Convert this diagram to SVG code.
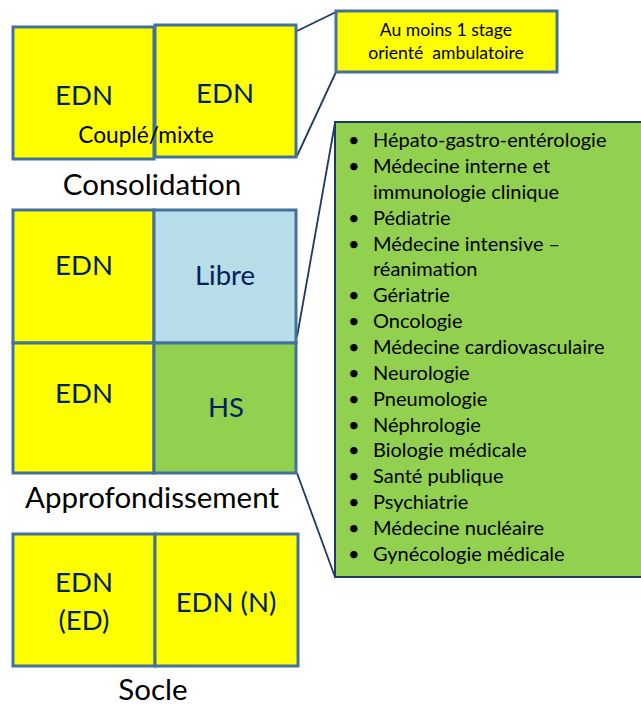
<svg xmlns="http://www.w3.org/2000/svg" width="641" height="705" viewBox="0 0 641 705">
<style>
.box{stroke:#41719C;stroke-width:3}
.y{fill:#FFFF00}
.b{fill:#B7DDE8}
.g{fill:#92D050}
.t{font-family:Lato,"Open Sans",sans-serif;fill:#002060;font-size:27.5px;text-anchor:middle}
.lbl{font-family:Lato,"Open Sans",sans-serif;fill:#000;font-size:29.5px;text-anchor:middle}
.cm{font-family:Lato,"Open Sans",sans-serif;fill:#000;font-size:22.7px;text-anchor:middle}
.sm{font-family:Lato,"Open Sans",sans-serif;fill:#000;font-size:17.6px;text-anchor:middle}
.li{font-family:Lato,"Open Sans",sans-serif;fill:#000;font-size:20px}
.conn{stroke:#1F3864;stroke-width:1.8;fill:none}
</style>
<rect width="641" height="705" fill="#fff"/>
<g id="connectors">
<line class="conn" x1="297" y1="31" x2="336" y2="12"/>
<line class="conn" x1="297" y1="156" x2="336" y2="72"/>
<line class="conn" x1="297" y1="337" x2="335" y2="123"/>
<line class="conn" x1="297" y1="473" x2="335" y2="577"/>
</g>
<g id="consolidation">
<rect class="box y" x="13" y="27" width="141" height="132"/>
<rect class="box y" x="155" y="25" width="141" height="132"/>
<text class="t" x="84" y="105">EDN</text>
<text class="t" x="225" y="103">EDN</text>
<text class="cm" x="146" y="143">Couplé/mixte</text>
<text class="lbl" x="152" y="195">Consolidation</text>
</g>
<g id="approfondissement">
<rect class="box y" x="13" y="210" width="141" height="133"/>
<rect class="box b" x="154" y="210" width="142" height="133"/>
<rect class="box y" x="13" y="343" width="141" height="130"/>
<rect class="box g" x="154" y="343" width="142" height="130"/>
<text class="t" x="84" y="275">EDN</text>
<text class="t" x="225" y="285">Libre</text>
<text class="t" x="84" y="403">EDN</text>
<text class="t" x="226" y="417">HS</text>
<text class="lbl" x="152" y="508">Approfondissement</text>
</g>
<g id="socle">
<rect class="box y" x="13" y="534" width="142" height="132"/>
<rect class="box y" x="155" y="534" width="143" height="132"/>
<text class="t" x="84" y="592">EDN</text>
<text class="t" x="84" y="630">(ED)</text>
<text class="t" x="226" y="612">EDN (N)</text>
<text class="lbl" x="153" y="700">Socle</text>
</g>
<g id="callout-ambulatoire">
<rect class="box y" x="336" y="11" width="221" height="61"/>
<text class="sm" x="446" y="36">Au moins 1 stage</text>
<text class="sm" x="446" y="59" xml:space="preserve">orienté  ambulatoire</text>
</g>
<g id="callout-hs">
<rect x="335" y="122" width="310" height="455" fill="#92D050" stroke="#1F3864" stroke-width="2"/>
<g class="li">
<text x="348" y="147">•</text><text x="373" y="147">Hépato-gastro-entérologie</text>
<text x="348" y="173">•</text><text x="373" y="173">Médecine interne et</text>
<text x="373" y="199">immunologie clinique</text>
<text x="348" y="225">•</text><text x="373" y="225">Pédiatrie</text>
<text x="348" y="251">•</text><text x="373" y="251">Médecine intensive –</text>
<text x="373" y="276">réanimation</text>
<text x="348" y="302">•</text><text x="373" y="302">Gériatrie</text>
<text x="348" y="328">•</text><text x="373" y="328">Oncologie</text>
<text x="348" y="354">•</text><text x="373" y="354">Médecine cardiovasculaire</text>
<text x="348" y="380">•</text><text x="373" y="380">Neurologie</text>
<text x="348" y="406">•</text><text x="373" y="406">Pneumologie</text>
<text x="348" y="432">•</text><text x="373" y="432">Néphrologie</text>
<text x="348" y="457">•</text><text x="373" y="457">Biologie médicale</text>
<text x="348" y="483">•</text><text x="373" y="483">Santé publique</text>
<text x="348" y="509">•</text><text x="373" y="509">Psychiatrie</text>
<text x="348" y="535">•</text><text x="373" y="535">Médecine nucléaire</text>
<text x="348" y="561">•</text><text x="373" y="561">Gynécologie médicale</text>
</g>
</g>
</svg>
